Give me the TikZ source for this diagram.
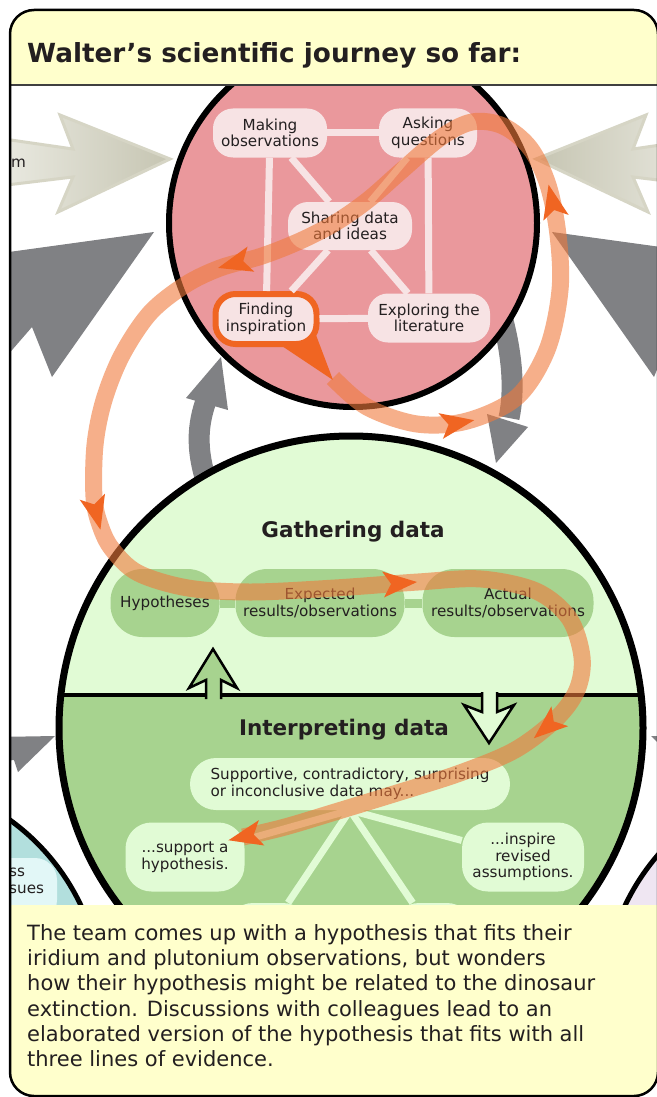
\documentclass[tikz,border=0pt]{standalone}
\usepackage{fontspec}
\setmainfont{DejaVu Sans}
\usepackage{tikz}
\usetikzlibrary{arrows,calc,decorations.markings}

\definecolor{inkdark}{RGB}{35,31,32}
\definecolor{notepaper}{RGB}{255,255,204}
\definecolor{ideacircle}{RGB}{234,152,156}
\definecolor{ideapale}{RGB}{247,227,228}
\definecolor{datapale}{RGB}{225,251,213}
\definecolor{datamid}{RGB}{167,211,143}
\definecolor{peerteal}{RGB}{178,223,221}
\definecolor{peerpale}{RGB}{226,247,247}
\definecolor{outlilac}{RGB}{239,230,242}
\definecolor{feedgray}{RGB}{128,129,132}
\definecolor{beigedark}{RGB}{198,197,178}
\definecolor{beigelight}{RGB}{236,236,228}
\definecolor{beigeedge}{RGB}{214,213,197}
\definecolor{journeyorange}{RGB}{240,101,34}
\definecolor{journeylight}{RGB}{240,122,60}

\newcommand{\boxfont}{\fontsize{15.2}{16.6}\selectfont}
\newcommand{\journeytip}{\fill[journeyorange] (17pt,0pt) -- (-17pt,13pt) -- (-9pt,0pt) -- (-17pt,-13pt) -- cycle;}

\tikzset{
%Define box styles
ideabox/.style={fill=ideapale, rounded corners=20pt, minimum height=49pt, align=center, inner sep=2pt, font=\boxfont, text=inkdark},
ideaedge/.style={draw=ideapale, line width=7pt},
databox/.style={fill=datamid, rounded corners=32pt, minimum height=68pt, align=center, inner sep=2pt, font=\boxfont, text=inkdark},
dataedge/.style={draw=datamid, line width=9pt},
outcomebox/.style={fill=datapale, rounded corners=26pt, align=center, inner sep=2pt, font=\boxfont, text=inkdark},
outcomeedge/.style={draw=datapale, line width=7pt},
heading/.style={font=\fontsize{21.5}{24}\selectfont\bfseries, text=inkdark},
%Define arrow and border styles
journeyband/.style={draw=journeylight, draw opacity=0.6, line width=17pt, line join=round},
graytip/.style={fill=feedgray},
grayshaft/.style={draw=feedgray, line width=21pt},
hollowtip/.style={draw=black, line width=2.5pt, line join=miter},
cycleborder/.style={draw=black, line width=6pt},
}

\begin{document}
\begin{tikzpicture}[x=1pt, y=-1pt]
    \useasboundingbox (0,0) rectangle (656,1097);
    \begin{scope}
    \clip[rounded corners=24pt] (10,10) rectangle (658,1096);
    \fill[white] (10,10) rectangle (658,1096);
    % Neighbouring cycles
    \fill[peerteal] (-120,1000) circle (222pt);
    \draw[cycleborder, line width=5pt] (-120,1000) circle (222pt);
    \fill[peerpale, rounded corners=22pt] (-60,858) rectangle (57,922);
    \node[anchor=north west, align=left, inner sep=0pt, font=\boxfont, text=inkdark] (peers) at (9,868) {ss\\sues};
    \fill[outlilac] (826,1000) circle (222pt);
    \draw[cycleborder, line width=5pt] (826,1000) circle (222pt);
    % Arrows from outside
    \shadedraw[left color=beigelight, right color=beigedark, draw=beigeedge, line width=3pt] (-10,137) -- (73,149) -- (60,115) -- (170,159) -- (58,212) -- (73,177) -- (-10,187) -- cycle;
    \shadedraw[left color=beigedark, right color=beigelight, draw=beigeedge, line width=3pt] (716,137) -- (633,149) -- (646,115) -- (536,159) -- (648,212) -- (633,177) -- (716,187) -- cycle;
    \node[anchor=west, inner sep=0pt, font=\boxfont, text=inkdark] (outside) at (11,163) {m};
    \fill[graytip] (-20,256) -- (154,232) -- (52,377) -- (32,327) -- (-20,387) -- cycle;
    \fill[graytip] (726,256) -- (552,232) -- (654,377) -- (674,327) -- (726,387) -- cycle;
    \fill[graytip] (-5,737) -- (55,736) -- (18,772) -- (14,760) -- (-5,762) -- cycle;
    \fill[graytip] (711,737) -- (651,736) -- (688,772) -- (692,760) -- (711,762) -- cycle;
    % Links between the two cycles
    \draw[grayshaft] (210,492) .. controls (195,452) and (197,425) .. (207,398);
    \fill[graytip] (186,398) -- (221,357) -- (228,410) -- cycle;
    \draw[grayshaft] (497,300) .. controls (513,350) and (515,390) .. (509,418);
    \fill[graytip] (487,414) -- (528,427) -- (496,463) -- cycle;
    % Exploration cycle
    \fill[ideacircle] (353,223) circle (184pt);
    \draw[cycleborder] (353,223) circle (184pt);
    \node[ideabox, minimum width=114pt] (mk) at (270,133) {Making\\observations};
    \node[ideabox, minimum width=98pt] (aq) at (428,133) {Asking\\questions};
    \node[ideabox, minimum width=124pt, minimum height=48pt] (sh) at (350,226) {Sharing data\\and ideas};
    \node[ideabox, minimum width=122pt] (ex) at (429,318) {Exploring the\\literature};
    \fill[journeyorange] (276,342) -- (316,335) -- (333,380) -- cycle;
    \node[ideabox, draw=journeyorange, line width=6pt, minimum width=101pt, minimum height=50pt] (fi) at (266,319) {Finding\\inspiration};
    \draw[ideaedge] (mk) -- (aq);
    \draw[ideaedge] (mk) -- (sh);
    \draw[ideaedge] (aq) -- (sh);
    \draw[ideaedge] (aq) -- (ex);
    \draw[ideaedge] (ex) -- (sh);
    \draw[ideaedge] (ex) -- (fi);
    \draw[ideaedge] (mk) -- (fi);
    \draw[ideaedge] (sh) -- (fi);
    % Testing cycle
    \begin{scope}
    \clip (351,728) circle (292pt);
    \fill[datapale] (50,420) rectangle (660,695);
    \fill[datamid] (50,695) rectangle (660,1040);
    \draw[black, line width=4pt] (50,695) -- (660,695);
    \end{scope}
    \draw[cycleborder, line width=7pt] (351,728) circle (292pt);
    \node[heading] (gather) at (353,532) {Gathering data};
    \node[heading] (interpret) at (344,730) {Interpreting data};
    \node[databox, minimum width=109pt] (hyp) at (165,603) {Hypotheses};
    \node[databox, minimum width=169pt] (exp) at (320,603) {Expected\\results/observations};
    \node[databox, minimum width=171pt] (act) at (508,603) {Actual\\results/observations};
    \draw[dataedge] (hyp) -- (exp);
    \draw[dataedge] (exp) -- (act);
    \filldraw[hollowtip, fill=datamid] (206,699) -- (206,680) -- (189,688) -- (213,649) -- (237,688) -- (221,680) -- (221,699);
    \filldraw[hollowtip, fill=datapale] (482,692) -- (482,712) -- (464,705) -- (489,743) -- (514,705) -- (497,712) -- (497,692);
    \node[outcomebox, minimum width=82pt, minimum height=60pt] (lowleft) at (268,933) {};
    \node[outcomebox, minimum width=80pt, minimum height=60pt] (lowright) at (433,933) {};
    \node[outcomebox, minimum width=122pt, minimum height=69pt] (ins) at (523,857) {...inspire\\revised\\assumptions.};
    \node[outcomebox, minimum width=119pt, minimum height=69pt] (sup) at (185,857) {...support a\\hypothesis.};
    \node[outcomebox, align=left, minimum width=320pt, minimum height=52pt] (may) at (350,784) {Supportive, contradictory, surprising\\or inconclusive data may...};
    \draw[outcomeedge] (may.south) -- (sup);
    \draw[outcomeedge] (may.south) -- (ins);
    \draw[outcomeedge] (may.south) -- (lowleft);
    \draw[outcomeedge] (may.south) -- (lowright);
    % Walter's journey
    \coordinate (tailtip) at (333,378);
    \coordinate (journeyend) at (243,837);
    \draw[journeyband, postaction={decorate}, decoration={markings,
        mark=at position 0.066 with {\journeytip},
        mark=at position 0.196 with {\journeytip},
        mark=at position 0.389 with {\journeytip},
        mark=at position 0.538 with {\journeytip},
        mark=at position 0.700 with {\journeytip},
        mark=at position 0.845 with {\journeytip},
        mark=at position 0.999 with {\journeytip}}]
        plot[smooth, tension=0.55] coordinates {(tailtip) (367,407) (417,424) (467,421) (517,397) (547,350) (560,290) (558,235) (548,185) (530,148) (503,126) (472,122) (440,138) (400,172) (368,200) (335,223) (300,241) (262,256) (220,268) (185,285) (150,313) (122,355) (104,400) (95,445) (94,497) (100,525) (112,549) (138,573) (188,588) (251,592) (335,588) (418,582) (481,579) (536,591) (569,618) (582,657) (577,690) (556,719) (515,750) (460,773) (397,793) (335,812) (285,827) (journeyend)};
    % Title and story
    \fill[notepaper] (10,10) rectangle (658,85);
    \draw[black!75, line width=1.2pt] (10,85) -- (658,85);
    \node[anchor=base west, inner sep=0pt, font=\fontsize{26.3}{30}\selectfont\bfseries, text=inkdark] (title) at (27,63) {Walter’s scientific journey so far:};
    \fill[notepaper] (10,905) rectangle (658,1096);
    \node[anchor=north west, align=left, inner sep=0pt, font=\fontsize{21}{25.3}\selectfont, text=inkdark] (story) at (27,924) {The team comes up with a hypothesis that fits their\\iridium and plutonium observations, but wonders\\how their hypothesis might be related to the dinosaur\\extinction. Discussions with colleagues lead to an\\elaborated version of the hypothesis that fits with all\\three lines of evidence.};
    \end{scope}
    \draw[black, line width=2.5pt, rounded corners=24pt] (10,10) rectangle (658,1096);
\end{tikzpicture}
\end{document}
